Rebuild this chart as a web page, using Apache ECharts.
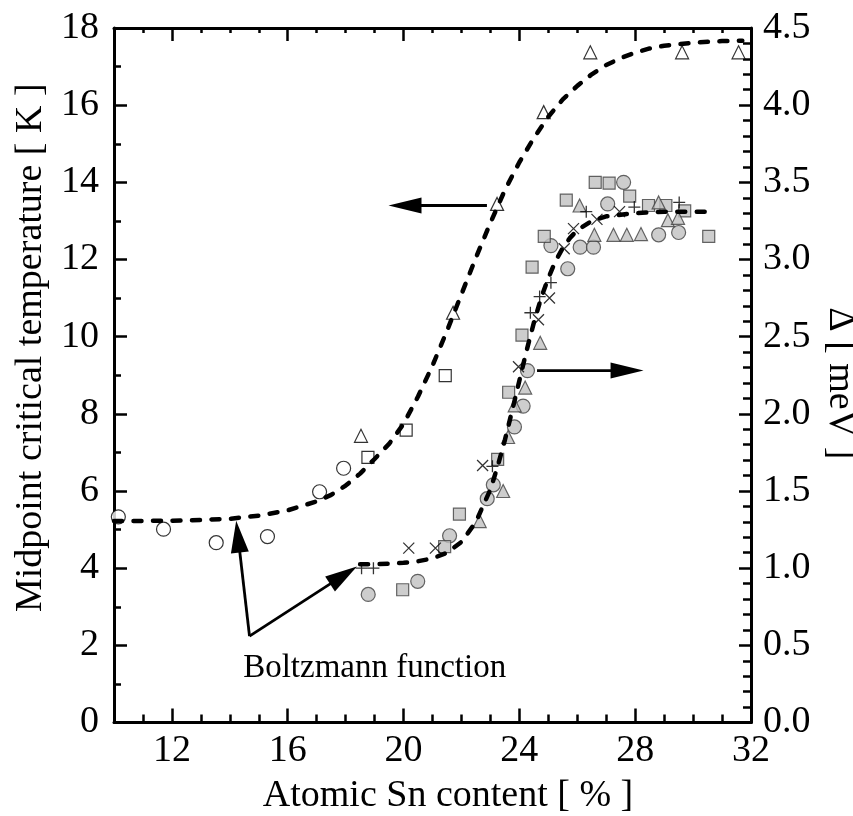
<!DOCTYPE html>
<html>
<head>
<meta charset="utf-8">
<script src="https://cdn.jsdelivr.net/npm/echarts@6/dist/echarts.min.js"></script>
<style>html,body{margin:0;padding:0;background:#fff}#c{width:853px;height:816px}</style>
</head>
<body>
<div id="c"></div>
<script>
// ---------- data (x = atomic Sn %, Tc in K on left axis, gap in meV on right axis) ----------
const X_MAJOR_TICKS = [12, 16, 20, 24, 28, 32];

// Midpoint Tc (left axis)
const tcOpenCircles   = [[10.15,5.33],[11.71,5.01],[13.53,4.66],[15.30,4.82],[17.10,5.98],[17.93,6.59]];
const tcOpenSquares   = [[18.77,6.87],[20.09,7.58],[21.44,8.99]];
const tcOpenTriangles = [[18.53,7.43],[21.71,10.62],[23.23,13.44],[24.84,15.82],[26.45,17.37],[29.62,17.37],[31.57,17.37]];

// Boltzmann fit for Tc
const tcFit = [[10,5.22],[12,5.23],[13,5.25],[14,5.28],[15,5.36],[16,5.5],[17,5.73],[17.5,5.9],[18,6.14],[18.5,6.45],
  [19,6.83],[19.5,7.22],[20,7.74],[20.5,8.45],[21,9.25],[21.5,10.15],[22,11.1],[22.5,12.05],[23,12.95],[23.5,13.8],
  [24,14.52],[24.5,15.15],[25,15.7],[25.5,16.15],[26,16.5],[26.5,16.8],[27,17.04],[27.5,17.22],[28,17.36],[28.5,17.47],
  [29,17.54],[30,17.62],[31,17.66],[31.7,17.67]];

// Gap Delta in meV (right axis)
const gapCircles = [[18.78,0.83],[20.49,0.915],[21.59,1.21],[22.89,1.45],[23.10,1.54],[23.83,1.915],[24.13,2.05],[24.28,2.28],
  [25.09,3.09],[25.67,2.94],[26.10,3.08],[26.56,3.08],[27.05,3.36],[27.60,3.50],[28.81,3.16],[29.50,3.175]];
const gapSquares = [[19.97,0.86],[21.42,1.14],[21.93,1.35],[23.25,1.705],[23.63,2.14],[24.09,2.51],[24.44,2.95],[24.86,3.15],
  [25.62,3.385],[26.62,3.50],[27.10,3.495],[27.81,3.41],[28.46,3.35],[29.06,3.35],[29.71,3.315],[30.54,3.15]];
const gapTriangles = [[22.63,1.305],[23.44,1.50],[23.61,1.85],[23.84,2.055],[24.20,2.17],[24.72,2.46],[26.08,3.35],[26.59,3.16],
  [27.25,3.16],[27.71,3.16],[28.20,3.165],[28.81,3.37],[29.13,3.255],[29.48,3.27]];
const gapPlus = [[18.55,1.0],[18.96,1.0],[23.07,1.66],[24.38,2.655],[24.70,2.76],[25.09,2.85],[26.31,3.31],[27.97,3.34],[29.52,3.37]];
const gapCross = [[20.18,1.13],[21.10,1.13],[22.73,1.665],[23.97,2.305],[24.66,2.61],[25.04,2.75],[25.55,3.07],[25.87,3.20],[26.68,3.26],[27.46,3.31]];

// Boltzmann fit for Delta
const gapFit = [[18.5,1.025],[19.5,1.028],[20,1.035],[20.5,1.045],[21,1.063],[21.5,1.10],[22,1.17],[22.5,1.30],[23,1.51],[23.25,1.66],
  [23.5,1.83],[23.75,2.02],[24,2.215],[24.25,2.41],[24.5,2.59],[24.75,2.75],[25,2.88],[25.25,2.99],[25.5,3.075],[25.75,3.14],
  [26,3.19],[26.5,3.25],[27,3.28],[28,3.30],[29,3.31],[30.4,3.31]];

// annotation anchors in (x, Tc) units
const arrowLeft  = [[22.88,13.40],[19.48,13.40]];
const arrowRight = [[24.61,9.12],[28.29,9.12]];
const boltzArrows = [[[14.68,2.24],[14.22,5.23]], [[14.68,2.24],[18.39,4.04]]];
const boltzLabelPos = [14.46, 1.41];
const boltzLabel = 'Boltzmann function';

// ---------- chart ----------
const FONT = 'Liberation Serif';
const chart = echarts.init(document.getElementById('c'), null, {renderer:'canvas'});
const tickStyle = {color:'#000', width:2.5};
const lineAx = {show:true, onZero:false, lineStyle:{color:'#000', width:3}};
const lbl = {color:'#000', fontFamily:FONT, fontSize:38};

const openStyle = {color:'#fff', borderColor:'#000', borderWidth:1.2};
const grayStyle = {color:'#c0c0c0', borderColor:'#404040', borderWidth:1.2};
const strokeStyle = {color:'rgba(0,0,0,0)', borderColor:'#000', borderWidth:1.3};
const fitLine = {color:'#000', width:4.5, type:[8,11.5], cap:'round'};

function scatter(data, symbol, size, style, yIdx){
  return {type:'scatter', xAxisIndex:0, yAxisIndex:yIdx, data, symbol, symbolSize:size, itemStyle:style, z:3, silent:true};
}

chart.setOption({
  animation:false,
  backgroundColor:'#fff',
  grid:{left:114, right:102, top:28, bottom:93.5, containLabel:false, outerBoundsMode:'none'},
  xAxis:[
    {type:'value', min:10, max:32, interval:1, position:'bottom', axisLine:lineAx,
      axisTick:{inside:true, length:8, lineStyle:tickStyle}, axisLabel:{show:false}, splitLine:{show:false}},
    {type:'value', min:10, max:32, position:'bottom', axisLine:{show:false, onZero:false},
      axisTick:{show:true, inside:true, length:14, customValues:X_MAJOR_TICKS, lineStyle:tickStyle},
      axisLabel:Object.assign({customValues:X_MAJOR_TICKS, margin:10}, lbl), splitLine:{show:false},
      name:'Atomic Sn content [ % ]', nameLocation:'middle', nameGap:55,
      nameTextStyle:{color:'#000', fontFamily:FONT, fontSize:38, padding:[0,0,0,31]}},
    {type:'value', min:10, max:32, interval:1, position:'top', axisLine:lineAx,
      axisTick:{inside:true, length:5, lineStyle:tickStyle}, axisLabel:{show:false}, splitLine:{show:false}},
    {type:'value', min:10, max:32, position:'top', axisLine:{show:false, onZero:false},
      axisTick:{show:true, inside:true, length:13, customValues:X_MAJOR_TICKS, lineStyle:tickStyle},
      axisLabel:{show:false}, splitLine:{show:false}}
  ],
  yAxis:[
    {type:'value', min:0, max:18, interval:2, position:'left', axisLine:lineAx,
      axisTick:{inside:true, length:13, lineStyle:tickStyle},
      minorTick:{show:true, splitNumber:2, length:7, lineStyle:tickStyle},
      axisLabel:Object.assign({margin:15}, lbl), splitLine:{show:false},
      name:'Midpoint critical temperature [ K ]', nameLocation:'middle', nameGap:62,
      nameTextStyle:{color:'#000', fontFamily:FONT, fontSize:38, padding:[0,0,0,55]}},
    {type:'value', min:0, max:4.5, interval:0.5, position:'right', axisLine:lineAx,
      axisTick:{inside:true, length:12, lineStyle:tickStyle},
      minorTick:{show:true, splitNumber:5, length:8, lineStyle:tickStyle},
      axisLabel:Object.assign({margin:12, formatter:v=>v.toFixed(1)}, lbl), splitLine:{show:false},
      name:'\u0394 [ meV ]', nameLocation:'middle', nameGap:65, nameRotate:-90,
      nameTextStyle:{color:'#000', fontFamily:FONT, fontSize:38, padding:[0,0,0,16]}}
  ],
  series:[
    {type:'line', xAxisIndex:0, yAxisIndex:0, data:tcFit, showSymbol:false, symbol:'none', lineStyle:fitLine, z:5, silent:true},
    {type:'line', xAxisIndex:0, yAxisIndex:1, data:gapFit, showSymbol:false, symbol:'none', lineStyle:fitLine, z:5, silent:true},
    scatter(tcOpenCircles, 'circle', 14, openStyle, 0),
    scatter(tcOpenSquares, 'rect', 12, openStyle, 0),
    scatter(tcOpenTriangles, 'triangle', 13, openStyle, 0),
    scatter(gapCircles, 'circle', 14, grayStyle, 1),
    scatter(gapSquares, 'rect', 12, grayStyle, 1),
    scatter(gapTriangles, 'triangle', 13, grayStyle, 1),
    scatter(gapPlus, 'path://M0,6L12,6M6,0L6,12', 12, strokeStyle, 1),
    scatter(gapCross, 'path://M0,0L12,12M12,0L0,12', 11, strokeStyle, 1)
  ]
});

// ---------- annotations (placed through the axes' scales) ----------
function px(p){ return chart.convertToPixel({seriesIndex:0}, p); }
function arrow(seg, headLen, headHalf){
  const a = px(seg[0]), b = px(seg[1]);
  const dx = b[0]-a[0], dy = b[1]-a[1], L = Math.hypot(dx,dy);
  const ux = dx/L, uy = dy/L, nx = -uy, ny = ux;
  const bx = b[0]-ux*headLen, by = b[1]-uy*headLen;
  return [
    {type:'polyline', shape:{points:[a,[bx+ux*2,by+uy*2]]}, style:{stroke:'#000', lineWidth:2.8, fill:null}, z:10, silent:true},
    {type:'polygon', shape:{points:[b,[bx+nx*headHalf,by+ny*headHalf],[bx-nx*headHalf,by-ny*headHalf]]}, style:{fill:'#000'}, z:10, silent:true}
  ];
}
const g = [];
g.push(...arrow(arrowLeft, 33, 8));
g.push(...arrow(arrowRight, 33, 8));
boltzArrows.forEach(s => g.push(...arrow(s, 32, 9)));
const tp = px(boltzLabelPos);
g.push({type:'text', x:tp[0], y:tp[1], style:{text:boltzLabel, fill:'#000', font:'33px "Liberation Serif"', textAlign:'left', textVerticalAlign:'middle'}, z:10, silent:true});
chart.setOption({graphic:g});
</script>
</body>
</html>
